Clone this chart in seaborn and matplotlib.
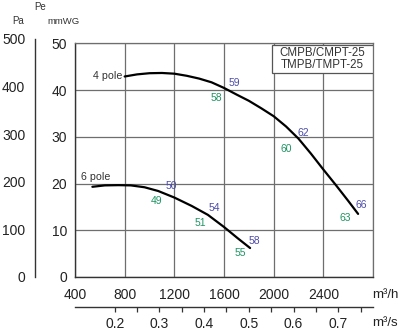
import matplotlib
matplotlib.use("Agg")
import matplotlib.pyplot as plt
from matplotlib.patches import Rectangle
import numpy as np
import pandas as pd
import seaborn as sns

# ---------------- data ----------------
flow_4pole = [800, 900, 1000, 1100, 1200, 1300, 1400, 1500, 1600, 1700, 1800,
              1900, 2000, 2100, 2200, 2300, 2400, 2500, 2600, 2680]
pres_4pole = [42.9, 43.35, 43.6, 43.65, 43.5, 43.05, 42.45, 41.65, 40.45, 39.05,
              37.7, 36.1, 34.4, 32.2, 29.6, 26.4, 23.0, 19.7, 16.3, 13.5]
flow_6pole = [540, 640, 750, 850, 960, 1070, 1200, 1340, 1470, 1600, 1710, 1810]
pres_6pole = [19.3, 19.6, 19.65, 19.6, 19.2, 18.4, 17.0, 15.2, 13.3, 10.7, 8.3, 6.2]

# noise labels: (flow, pressure, text)
blue_labels = [(1685, 41.6, "59"), (2239, 30.8, "62"), (2705, 15.5, "66"),
               (1173, 19.4, "50"), (1519, 14.7, "54"), (1841, 7.7, "58")]
green_labels = [(1540, 38.4, "58"), (2102, 27.4, "60"), (2577, 12.6, "63"),
                (1054, 16.3, "49"), (1411, 11.6, "51"), (1733, 5.1, "55")]

x_ticks = [400, 800, 1200, 1600, 2000, 2400, 2800]
x_ticklabels = ["400", "800", "1200", "1600", "2000", "2400", ""]
y_ticks = [0, 10, 20, 30, 40, 50]
pa_ticks = [0, 100, 200, 300, 400, 500]
s_ticks = [0.2, 0.3, 0.4, 0.5, 0.6, 0.7]
s_minor = [0.25, 0.35, 0.45, 0.55, 0.65, 0.75]
model_lines = ["CMPB/CMPT-25", "TMPB/TMPT-25"]

df = pd.concat([
    pd.DataFrame({"flow": flow_4pole, "pe": pres_4pole, "curve": "4 pole"}),
    pd.DataFrame({"flow": flow_6pole, "pe": pres_6pole, "curve": "6 pole"}),
])

# ---------------- style ----------------
sns.set_style("white")
plt.rcParams["font.family"] = ["Liberation Sans", "DejaVu Sans"]
TXT = "#222222"
GRID = "#6e6e6e"
BLUE = "#4c4caa"
GREEN = "#1f9463"
FS = 10

fig = plt.figure(figsize=(4.0, 3.32), dpi=100)
W, H = 400.0, 332.0
x0, x1, y_bot, y_top = 75.0, 373.0, 277.0, 43.3
ax = fig.add_axes([x0 / W, 1 - y_bot / H, (x1 - x0) / W, (y_bot - y_top) / H])

sns.lineplot(data=df, x="flow", y="pe", units="curve", estimator=None,
             color="black", lw=1.6, ax=ax, legend=False, sort=False)

ax.set_xlim(400, 2800)
ax.set_ylim(0, 50)
ax.set_xlabel("")
ax.set_ylabel("")
ax.set_xticks(x_ticks)
ax.set_xticklabels(x_ticklabels)
ax.set_xticks(np.arange(400, 2801, 100), minor=True)
ax.set_yticks(y_ticks)
ax.set_yticks(np.arange(0, 51, 2), minor=True)
ax.grid(True, which="major", color=GRID, lw=0.9)
ax.set_axisbelow(True)
for s in ["top", "right"]:
    ax.spines[s].set_color(GRID)
    ax.spines[s].set_linewidth(0.9)
for s in ["left", "bottom"]:
    ax.spines[s].set_color("#333333")
    ax.spines[s].set_linewidth(1.0)
ax.tick_params(axis="y", which="major", direction="out", length=2.5, width=0.9,
               labelsize=FS, pad=3.3, colors="#333333", labelcolor=TXT)
ax.tick_params(axis="y", which="minor", direction="out", length=1.8, width=0.8,
               colors="#333333")
ax.tick_params(axis="x", which="major", direction="in", length=3, width=0.9,
               labelsize=FS, pad=8, colors="#333333", labelcolor=TXT)
ax.tick_params(axis="x", which="minor", direction="in", length=2, width=0.8,
               colors="#333333")

# curve names
ax.text(783, 43.0, "4 pole", ha="right", va="center", fontsize=7.7, color="#333333")
ax.text(565, 21.5, "6 pole", ha="center", va="center", fontsize=7.7, color="#333333")

for fx, py, t in blue_labels:
    ax.text(fx, py, t, ha="center", va="center", fontsize=7.5, color=BLUE)
for fx, py, t in green_labels:
    ax.text(fx, py, t, ha="center", va="center", fontsize=7.5, color=GREEN)

# model box
bx0 = (272 - x0) / (x1 - x0)
by0 = (y_bot - 73) / (y_bot - y_top)
by1 = (y_bot - 45) / (y_bot - y_top)
ax.add_patch(Rectangle((bx0, by0), 1 - bx0, by1 - by0, transform=ax.transAxes,
                       facecolor="white", edgecolor="#555555", lw=0.9, zorder=5))
for line, ypx in zip(model_lines, [53, 65]):
    ax.text((322 - x0) / (x1 - x0), (y_bot - ypx) / (y_bot - y_top), line,
            transform=ax.transAxes, ha="center", va="center", fontsize=8.3,
            color="#333333", zorder=6)

# secondary m3/s axis
sec = ax.secondary_xaxis((y_bot - 307) / (y_bot - y_top),
                         functions=(lambda h: h / 3600.0, lambda s: s * 3600.0))
sec.set_xticks(s_ticks)
sec.set_xticklabels([f"{v:.1f}" for v in s_ticks])
sec.set_xticks(s_minor, minor=True)
sec.tick_params(axis="x", which="major", direction="out", length=3.5, width=0.9,
                labelsize=FS, pad=3.5, colors="#333333", labelcolor=TXT)
sec.tick_params(axis="x", which="minor", direction="out", length=3.5, width=0.9,
                colors="#333333")
sec.spines["bottom"].set_color("#333333")
sec.spines["bottom"].set_linewidth(1.0)

# Pa axis (1 mmWG = 9.80665 Pa)
pa_top_mm = 500 / 9.80665
pa_h = pa_top_mm * (y_bot - y_top) / 50.0
axp = fig.add_axes([35 / W, 1 - y_bot / H, 0.001, pa_h / H])
axp.set_ylim(0, 500)
axp.set_yticks(pa_ticks)
axp.set_xticks([])
axp.patch.set_alpha(0)
for s in ["top", "right", "bottom"]:
    axp.spines[s].set_visible(False)
axp.spines["left"].set_color("#333333")
axp.spines["left"].set_linewidth(1.0)
axp.tick_params(axis="y", direction="out", length=3.5, width=0.9, labelsize=FS,
                pad=3.5, colors="#333333", labelcolor=TXT)

# axis titles
fig.text(18 / W, 1 - 21 / H, "Pa", ha="center", va="center", fontsize=7, color="#333333")
fig.text(40 / W, 1 - 7 / H, "Pe", ha="center", va="center", fontsize=7, color="#333333")
fig.text(64 / W, 1 - 21.7 / H, "mmWG", ha="center", va="center", fontsize=6.8, color="#333333")
fig.text(385 / W, 1 - 295 / H, "m³/h", ha="center", va="center", fontsize=9.5, color=TXT)
fig.text(385 / W, 1 - 323 / H, "m³/s", ha="center", va="center", fontsize=9.5, color=TXT)

fig.savefig("out.png", dpi=100, facecolor="white")
